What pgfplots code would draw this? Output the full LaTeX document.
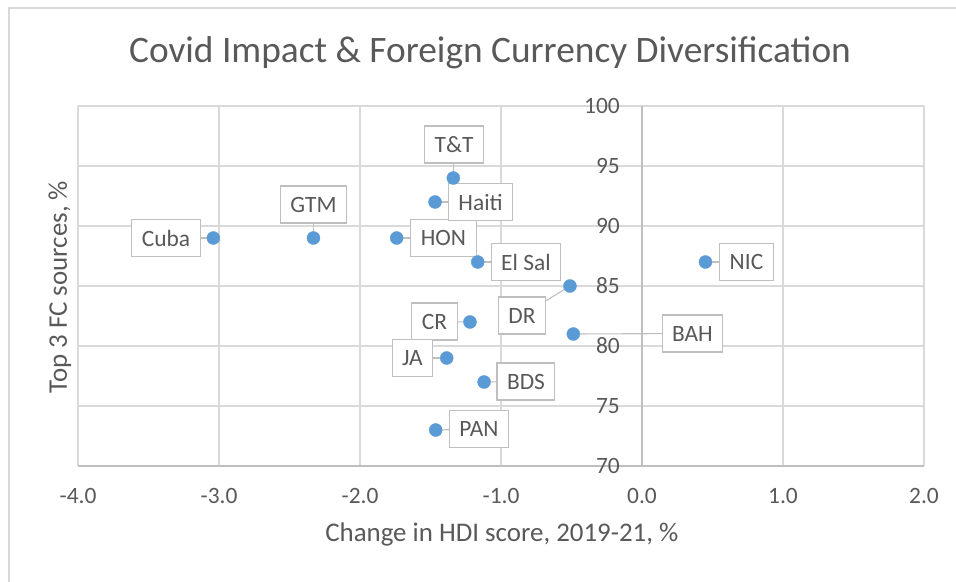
\documentclass[border=0pt]{standalone}
\usepackage{pgfplots}
\pgfplotsset{compat=1.18}
\usepackage{pgfplotstable}
\usepackage{fontspec}
\setmainfont{Carlito}

\definecolor{txt}{HTML}{595959}
\definecolor{grd}{HTML}{D9D9D9}
\definecolor{axl}{HTML}{BFBFBF}
\definecolor{dot}{HTML}{5B9BD5}

% x, y = data point; lx, ly = centre of its label box
\pgfplotstableread{
x      y   lx      ly     label
-3.04  89  -3.376  89.00  Cuba
-2.33  89  -2.330  91.79  GTM
-1.74  89  -1.408  89.00  HON
-1.338 94  -1.333  96.79  {T\&T}
-1.468 92  -1.145  92.00  Haiti
-1.165 87  -0.823  87.00  {El Sal}
-0.511 85  -0.851  82.54  DR
0.45   87   0.741  87.00  NIC
-1.22  82  -1.472  82.04  CR
-0.487 81   0.358  81.04  BAH
-1.385 79  -1.628  79.00  JA
-1.12  77  -0.823  77.04  BDS
-1.463 73  -1.156  73.08  PAN
}\datatable

\begin{document}
\begin{tikzpicture}
  \useasboundingbox (0,0) rectangle (956bp,582bp);
  % chart frame (cropped on right and bottom)
  \draw[grd, line width=1.1bp] (9bp,0) -- (9bp,574bp) -- (956bp,574bp);

  \begin{axis}[
    at={(78bp,116bp)}, anchor=south west,
    scale only axis, width=846bp, height=360bp,
    xmin=-4, xmax=2, ymin=70, ymax=100,
    xtick={-4,-3,...,2}, ytick={70,75,...,100},
    axis x line=bottom, axis y line=middle,
    axis line style={draw=axl, line width=1.1bp, -},
    major tick length=0pt,
    grid=major,
    major grid style={draw=grd, line width=1.1bp},
    hide obscured x ticks=false, hide obscured y ticks=false,
    clip=false,
    /pgf/number format/assume math mode=true,
    xticklabel style={/pgf/number format/.cd, fixed, fixed zerofill, precision=1, /tikz/.cd,
      anchor=center, yshift=-30bp},
    yticklabel style={anchor=east, inner sep=0pt, xshift=-22bp},
    tick label style={font=\fontsize{23.5}{28}\selectfont, text=txt},
    title={Covid Impact \& Foreign Currency Diversification},
    title style={at={(axis description cs:0.487,1.131)}, anchor=center,
      font=\fontsize{37.5}{44}\selectfont, text=txt},
    xlabel={Change in HDI score, 2019-21, \%},
    xlabel style={at={(axis description cs:0.501,-0.19)}, anchor=center,
      font=\fontsize{27}{32}\selectfont, text=txt},
    ylabel={Top 3 FC sources, \%},
    ylabel style={at={(axis description cs:-0.0213,0.497)}, anchor=center, rotate=90,
      font=\fontsize{27}{32}\selectfont, text=txt},
  ]
    % callout lines from point to label
    \addplot[draw=axl, line width=1.1bp,
      quiver={u=\thisrow{lx}-\thisrow{x}, v=\thisrow{ly}-\thisrow{y}}]
      table[x=x, y=y] {\datatable};
    % label boxes
    \addplot[only marks, mark=none,
      nodes near coords, point meta=explicit symbolic,
      nodes near coords align={anchor=center},
      every node near coord/.append style={anchor=center, draw=axl, fill=white,
        line width=1.1bp, text=txt, inner xsep=10bp, inner ysep=0pt,
        minimum height=37bp, font=\fontsize{23.5}{28}\selectfont}]
      table[x=lx, y=ly, meta=label] {\datatable};
    % data points
    \addplot[only marks, mark=*, mark size=6.5bp, color=dot]
      table[x=x, y=y] {\datatable};
  \end{axis}
\end{tikzpicture}
\end{document}
